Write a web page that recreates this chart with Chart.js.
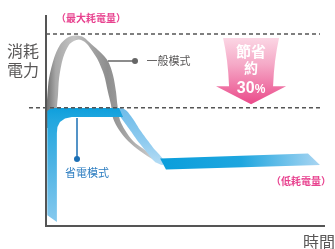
<!DOCTYPE html>
<html>
<head>
<meta charset="utf-8">
<script src="https://cdn.jsdelivr.net/npm/chart.js@4"></script>
<style>
  html, body { margin: 0; padding: 0; background: #fff; }
  #wrap { width: 335px; height: 249px; position: relative; }
</style>
</head>
<body>
<div id="wrap"><canvas id="powerChart"></canvas></div>
<script>
// power levels (0-100) and time range (0-100)
const maxLevel = 91.0;    // 最大耗電量
const saveLevel = 56.1;   // 省電模式 ceiling
const levelLineEnd = 98.2;
const saveLineStart = -6.1;
const arrowTime = 73.5;

// 一般模式 ribbon: outer edge, then inner edge back
const normalOuterTime  = [0, 0.2, 0.5, 1.1, 2.9, 5.0, 7.5, 10.4, 13.3, 16.5, 19.4, 22.2, 24.0, 25.1, 25.6, 26.5, 28.3, 31.2, 35.5, 39.4, 42.3];
const normalOuterPower = [46.4, 55.9, 62.1, 70.1, 79.6, 85.8, 89.1, 90.3, 89.6, 85.9, 82.5, 78.2, 71.6, 63.5, 57.3, 50.2, 45.5, 40.3, 36.0, 32.7, 30.8];
const normalInnerTime  = [38.7, 33.7, 29.4, 26.2, 24.0, 23.3, 22.2, 20.8, 18.6, 16.8, 14.7, 13.3, 11.8, 10.0, 8.2, 6.1, 4.7, 4.3, 3.9, 3.9];
const normalInnerPower = [31.3, 35.5, 40.3, 45.5, 51.2, 57.3, 63.5, 71.6, 78.7, 82.5, 86.3, 87.7, 88.4, 87.7, 85.8, 79.6, 70.1, 62.1, 55.9, 46.4];

// 省電模式 ribbon (L part)
const saveTime  = [0.36, 0.36, 0.36, 0.7, 1.6, 3.2, 26.2, 27.6, 9.3, 6.8, 5.0, 4.1, 3.9, 3.9];
const savePower = [5.2, 36.0, 52.6, 54.5, 55.6, 55.9, 55.9, 51.7, 51.7, 50.9, 49.3, 46.9, 44.1, 1.9];

// 省電模式 drop (light part)
const dropTime  = [25.1, 27.2, 29.0, 31.2, 33.7, 36.6, 39.1, 41.9, 41.9, 39.1, 35.5, 32.6, 30.1, 28.0, 26.2];
const dropPower = [55.5, 55.9, 54.5, 50.7, 45.5, 40.3, 36.0, 31.8, 28.9, 30.3, 36.0, 40.8, 45.5, 49.3, 52.6];

// 低耗電量 band
const lowTime  = [40.9, 93.9, 98.2, 43.0];
const lowPower = [32.0, 34.4, 28.9, 26.8];

const pts = (xs, ys) => xs.map((v, i) => ({ x: v, y: ys[i] }));

function grad(chart, axis, stops) {
  const { ctx, chartArea, scales } = chart;
  if (!chartArea) return stops[0][1];
  const s = scales[axis];
  const a = s.getPixelForValue(stops[0][0]);
  const b = s.getPixelForValue(stops[stops.length - 1][0]);
  const g = axis === 'x' ? ctx.createLinearGradient(a, 0, b, 0) : ctx.createLinearGradient(0, a, 0, b);
  stops.forEach(([v, c]) => g.addColorStop(Math.min(1, Math.max(0, (s.getPixelForValue(v) - a) / (b - a))), c));
  return g;
}

const ribbon = {
  borderWidth: 0,
  pointRadius: 0,
  pointHitRadius: 0,
  fill: 'shape'
};

const decor = {
  id: 'decor',
  afterDatasetsDraw(chart) {
    const { ctx, chartArea: area, scales: { x, y } } = chart;
    ctx.save();

    // axes
    ctx.strokeStyle = '#555';
    ctx.lineWidth = 2;
    ctx.beginPath();
    ctx.moveTo(area.left, area.top);
    ctx.lineTo(area.left, area.bottom);
    ctx.lineTo(area.right, area.bottom);
    ctx.stroke();

    // pink arrow
    const cx = x.getPixelForValue(arrowTime);
    const top = y.getPixelForValue(maxLevel) + 4;
    const tip = y.getPixelForValue(saveLevel) - 3.5;
    const neck = tip - 18;
    const g = ctx.createLinearGradient(0, top, 0, tip);
    g.addColorStop(0, '#fbd6e4');
    g.addColorStop(0.4, '#f5a9c7');
    g.addColorStop(1, '#ea4a8a');
    ctx.fillStyle = g;
    ctx.beginPath();
    ctx.moveTo(cx - 28, top);
    ctx.lineTo(cx + 28, top);
    ctx.quadraticCurveTo(cx + 23, top + 22, cx + 22, neck);
    ctx.lineTo(cx + 35, neck);
    ctx.lineTo(cx, tip);
    ctx.lineTo(cx - 35, neck);
    ctx.lineTo(cx - 22, neck);
    ctx.quadraticCurveTo(cx - 23, top + 22, cx - 28, top);
    ctx.closePath();
    ctx.fill();

    ctx.fillStyle = '#fff';
    ctx.textAlign = 'center';
    ctx.textBaseline = 'middle';
    ctx.font = 'bold 15px "Noto Sans CJK TC"';
    ctx.fillText('節省', cx, 51);
    ctx.font = 'bold 14px "Noto Sans CJK TC"';
    ctx.fillText('約', cx, 68);
    ctx.textBaseline = 'alphabetic';
    ctx.textAlign = 'left';
    ctx.font = 'bold 16px "Liberation Sans"';
    const w30 = ctx.measureText('30').width;
    ctx.font = 'bold 12px "Liberation Sans"';
    const wPct = ctx.measureText('%').width;
    const sx = cx - (w30 + wPct) / 2;
    ctx.font = 'bold 16px "Liberation Sans"';
    ctx.fillText('30', sx, 93);
    ctx.font = 'bold 12px "Liberation Sans"';
    ctx.fillText('%', sx + w30, 93);

    // leaders
    ctx.strokeStyle = '#666';
    ctx.fillStyle = '#666';
    ctx.lineWidth = 1.5;
    ctx.beginPath();
    ctx.moveTo(108, 61);
    ctx.lineTo(135, 61);
    ctx.stroke();
    ctx.beginPath();
    ctx.arc(135, 61, 3, 0, Math.PI * 2);
    ctx.fill();

    ctx.strokeStyle = '#1b6fb5';
    ctx.fillStyle = '#1b6fb5';
    ctx.beginPath();
    ctx.moveTo(77, 118);
    ctx.lineTo(77, 159);
    ctx.stroke();
    ctx.beginPath();
    ctx.arc(77, 159, 3, 0, Math.PI * 2);
    ctx.fill();

    // texts
    ctx.textBaseline = 'middle';
    ctx.textAlign = 'left';
    ctx.font = '11px "Noto Sans CJK TC"';
    ctx.fillStyle = '#595757';
    ctx.fillText('一般模式', 146.5, 61);
    ctx.fillStyle = '#2a7cc0';
    ctx.fillText('省電模式', 65, 173);

    ctx.textAlign = 'center';
    ctx.font = 'bold 10px "Noto Sans CJK TC"';
    ctx.fillStyle = '#e8428f';
    ctx.fillText('（最大耗電量）', 91, 18.5);
    ctx.fillText('（低耗電量）', 301, 181);

    ctx.font = '16px "Noto Sans CJK TC"';
    ctx.fillStyle = '#595757';
    ctx.fillText('消耗', 23, 51);
    ctx.fillText('電力', 23, 70);
    ctx.fillText('時間', 319, 242);

    ctx.restore();
  }
};

new Chart(document.getElementById('powerChart'), {
  type: 'line',
  data: {
    datasets: [
      {
        data: [{ x: 0, y: maxLevel }, { x: levelLineEnd, y: maxLevel }],
        borderColor: '#555', borderWidth: 1.5, borderDash: [4, 3],
        pointRadius: 0, fill: false, clip: false, order: 0
      },
      {
        data: [{ x: saveLineStart, y: saveLevel }, { x: levelLineEnd, y: saveLevel }],
        borderColor: '#555', borderWidth: 1.5, borderDash: [4, 3],
        pointRadius: 0, fill: false, clip: false, order: 0
      },
      {
        ...ribbon, order: 1, tension: 0,
        data: pts(lowTime, lowPower),
        backgroundColor: c => grad(c.chart, 'x', [[41, '#0b9edb'], [70, '#1ea6df'], [98, '#a9d5f2']])
      },
      {
        ...ribbon, order: 2, tension: 0,
        data: pts(saveTime, savePower),
        backgroundColor: c => grad(c.chart, 'y', [[56, '#0e9fdc'], [50, '#22a7df'], [30, '#4cb3e4'], [2, '#86c9ee']])
      },
      {
        ...ribbon, order: 3, tension: 0.2,
        data: pts(dropTime, dropPower),
        backgroundColor: c => grad(c.chart, 'y', [[56, '#6fbce9'], [40, '#8fcbef'], [29, '#b5dcf4']])
      },
      {
        ...ribbon, order: 4, tension: 0.3,
        data: pts(normalOuterTime, normalOuterPower).concat(pts(normalInnerTime, normalInnerPower)),
        backgroundColor: c => grad(c.chart, 'x', [[0, '#6b6b6b'], [3.5, '#a8a8a8'], [10, '#c4c4c4'], [16, '#a5a5a5'], [22, '#8e8e8e'], [26, '#9a9a9a'], [34, '#b9b9b9'], [42, '#dddddd']])
      }
    ]
  },
  options: {
    responsive: true,
    maintainAspectRatio: false,
    animation: false,
    layout: { padding: { left: 46, right: 10, top: 15, bottom: 23 } },
    scales: {
      x: { type: 'linear', min: 0, max: 100, display: false },
      y: { type: 'linear', min: 0, max: 100, display: false }
    },
    plugins: {
      legend: { display: false },
      tooltip: { enabled: false }
    }
  },
  plugins: [decor]
});
</script>
</body>
</html>
